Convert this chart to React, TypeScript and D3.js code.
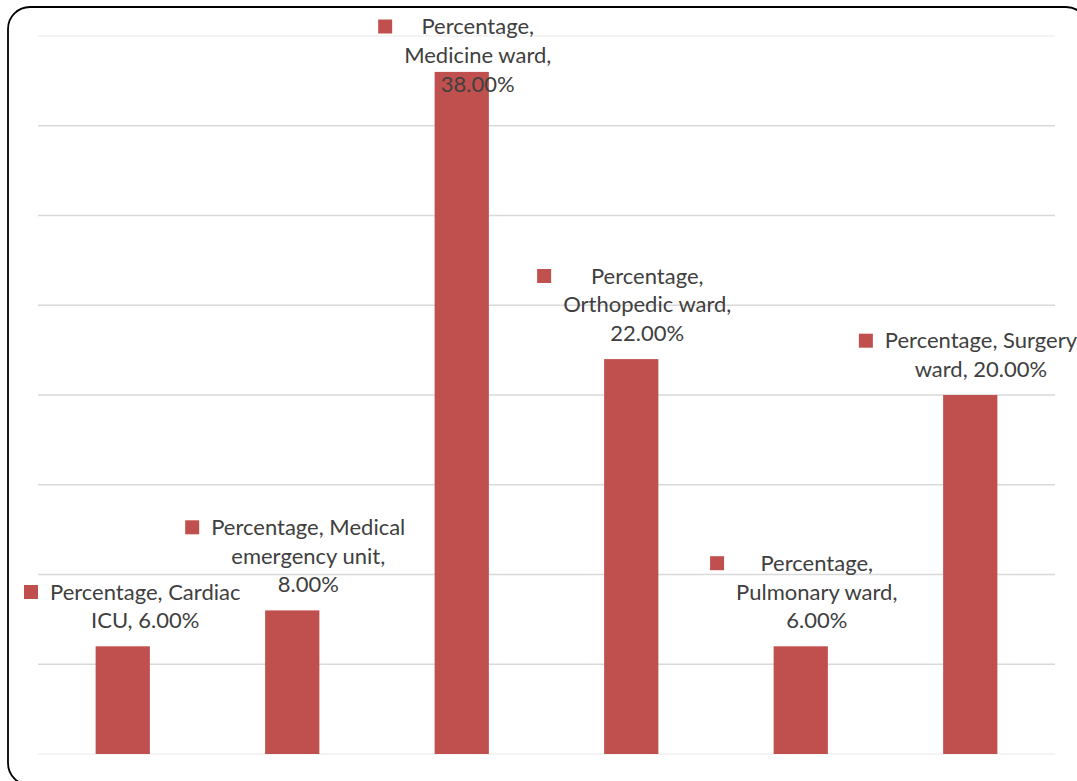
import React, { useEffect, useRef } from "react";
import * as d3 from "d3";

// Share of cases by ward
const categories: string[] = [
  "Cardiac ICU",
  "Medical emergency unit",
  "Medicine ward",
  "Orthopedic ward",
  "Pulmonary ward",
  "Surgery ward",
];
const percentages: number[] = [6, 8, 38, 22, 6, 20];
const seriesName = "Percentage";

// Data label text, wrapped the way it is shown above each bar
const labelLines: string[][] = [
  ["Percentage, Cardiac", "ICU, 6.00%"],
  ["Percentage, Medical", "emergency unit,", "8.00%"],
  ["Percentage,", "Medicine ward,", "38.00%"],
  ["Percentage,", "Orthopedic ward,", "22.00%"],
  ["Percentage,", "Pulmonary ward,", "6.00%"],
  ["Percentage, Surgery", "ward, 20.00%"],
];
const yTicks: number[] = [0, 5, 10, 15, 20, 25, 30, 35, 40];

const W = 1077;
const H = 781;
const BAR = "#c0504d";
const TEXT = "#404040";
const FONT = "Lato, 'Open Sans', sans-serif";
const FONT_SIZE = 22;
const LINE_H = 28.8;
const KEY = 14;
const KEY_GAP = 12;

export default function App() {
  const ref = useRef<SVGSVGElement | null>(null);

  useEffect(() => {
    const svg = d3.select(ref.current!);
    svg.selectAll("*").remove();

    const plot = { left: 38, right: 1055, top: 36, bottom: 754 };

    const x = d3
      .scaleBand<string>()
      .domain(categories)
      .range([plot.left, plot.right])
      .paddingInner(0.68)
      .paddingOuter(0.34);
    const y = d3.scaleLinear().domain([0, 40]).range([plot.bottom, plot.top]);

    // chart frame
    svg
      .append("rect")
      .attr("x", 8)
      .attr("y", 7)
      .attr("width", 1080)
      .attr("height", 778)
      .attr("rx", 22)
      .attr("ry", 22)
      .attr("fill", "#fff")
      .attr("stroke", "#000")
      .attr("stroke-width", 1.8);

    // horizontal gridlines
    svg
      .append("g")
      .selectAll("line")
      .data(yTicks)
      .join("line")
      .attr("x1", plot.left)
      .attr("x2", plot.right)
      .attr("y1", (d) => y(d))
      .attr("y2", (d) => y(d))
      .attr("stroke", (d) => (d === 0 || d === 40 ? "#f0f0f0" : "#d9d9d9"))
      .attr("stroke-width", 1.4);

    // bars
    svg
      .append("g")
      .selectAll("rect")
      .data(percentages)
      .join("rect")
      .attr("x", (_, i) => x(categories[i])!)
      .attr("y", (d) => y(d))
      .attr("width", x.bandwidth())
      .attr("height", (d) => y(0) - y(d))
      .attr("fill", BAR);

    // data labels: legend key + centered wrapped text
    const labels = svg.append("g").attr("font-family", FONT).attr("font-size", FONT_SIZE);
    percentages.forEach((v, i) => {
      const lines = labelLines[i];
      const g = labels.append("g").attr("aria-label", `${seriesName}, ${categories[i]}`);
      const texts = lines.map((t) =>
        g.append("text").attr("text-anchor", "middle").attr("fill", TEXT).text(t)
      );
      const widest = d3.max(texts, (t) => (t.node() as SVGTextElement).getComputedTextLength()) || 0;

      const cx = x(categories[i])! + x.bandwidth() / 2;
      let tc = cx + 16;
      let keyLeft = tc - widest / 2 - KEY_GAP - KEY;
      if (keyLeft < 24) {
        tc += 24 - keyLeft;
        keyLeft = 24;
      }
      if (tc + widest / 2 > W) {
        const shift = tc + widest / 2 - W;
        tc -= shift;
        keyLeft -= shift;
      }

      const lastBase = y(v) - 18;
      let firstBase = lastBase - (lines.length - 1) * LINE_H;
      if (firstBase < 34) {
        firstBase = 34;
      }
      texts.forEach((t, k) => t.attr("x", tc).attr("y", firstBase + k * LINE_H));

      g.append("rect")
        .attr("x", keyLeft)
        .attr("y", firstBase - 14.5)
        .attr("width", KEY)
        .attr("height", KEY)
        .attr("fill", BAR);
    });
  }, []);

  return (
    <svg
      ref={ref}
      width={W}
      height={H}
      style={{ position: "absolute", left: 0, top: 0, display: "block" }}
    />
  );
}
